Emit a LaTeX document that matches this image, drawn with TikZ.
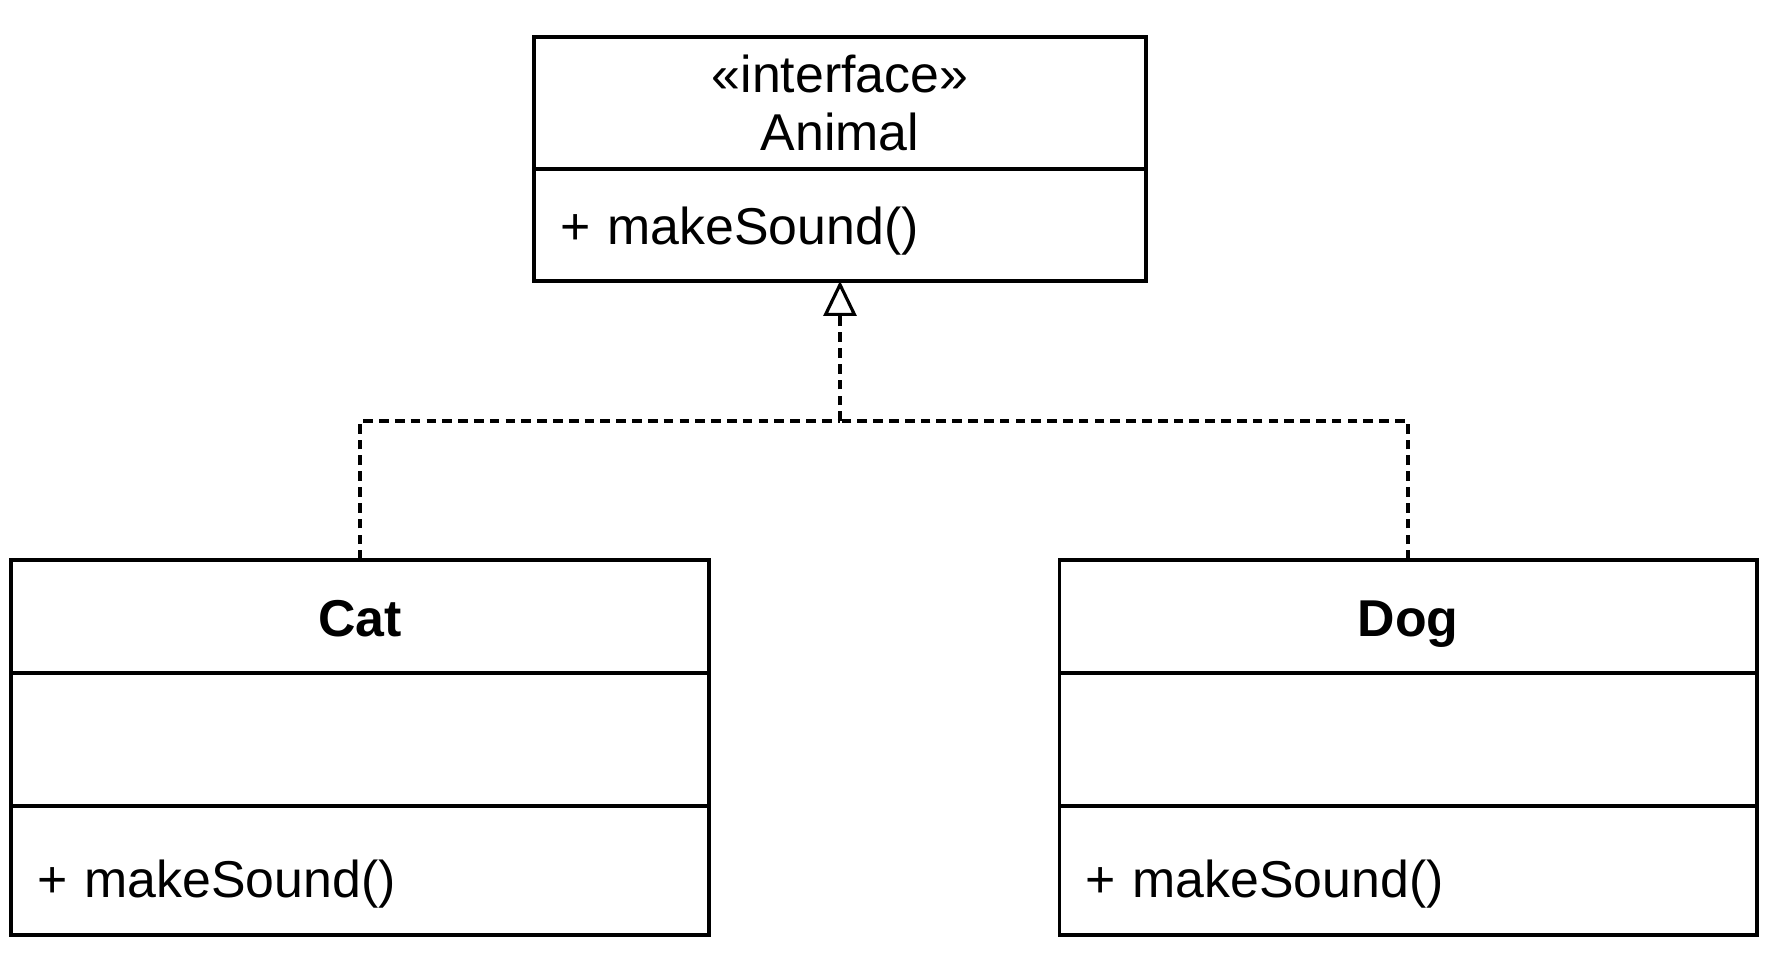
\documentclass[tikz,border=0pt]{standalone}
\usepackage{fontspec}
\setmainfont{Liberation Sans}
\usetikzlibrary{positioning, arrows.meta}

\begin{document}
\begin{tikzpicture}[x=0.02cm, y=-0.02cm, line width=1.8pt,
    font=\fontsize{29.5}{33}\selectfont,
    head/.style = {draw, rectangle, inner sep=0pt, outer sep=0pt, align=center},
    compart/.style = {draw, rectangle, inner ysep=0pt, inner xsep=0.52cm, outer sep=0pt, align=left},
    realize/.style = {dash pattern=on 5.5pt off 3.5pt}]
    \useasboundingbox (0,0) rectangle (1774,954);
    % interface
    \node[head, minimum width=12.24cm, minimum height=2.64cm] (animal) at (840,103) {«interface»\\Animal};
    \node[compart, text width=11.2cm, minimum height=2.24cm, text height=0.99cm, text depth=0.22cm] (animalops) [below=0pt of animal] {+ makeSound()};
    % classes
    \node[head, minimum width=13.96cm, minimum height=2.26cm, text height=0.99cm, text depth=0.2cm] (cat) at (360,616.5) {\bfseries Cat};
    \node[compart, text width=12.92cm, minimum height=2.66cm] (catattr) [below=0pt of cat] {};
    \node[compart, text width=12.92cm, minimum height=2.58cm, text height=1.32cm, text depth=0.22cm] (catops) [below=0pt of catattr] {+ makeSound()};
    \node[head, minimum width=13.96cm, minimum height=2.26cm, text height=0.99cm, text depth=0.2cm] (dog) at (1408,616.5) {\bfseries Dog};
    \node[compart, text width=12.92cm, minimum height=2.66cm] (dogattr) [below=0pt of dog] {};
    \node[compart, text width=12.92cm, minimum height=2.58cm, text height=1.32cm, text depth=0.22cm] (dogops) [below=0pt of dogattr] {+ makeSound()};
    % realization
    \coordinate (joint) at (840,421);
    \draw[realize, -{Triangle[open, length=0.7cm, width=0.66cm]}] (joint) -- (animalops.south);
    \draw[realize] (cat.north) |- (joint);
    \draw[realize] (dog.north) |- (joint);
\end{tikzpicture}
\end{document}
